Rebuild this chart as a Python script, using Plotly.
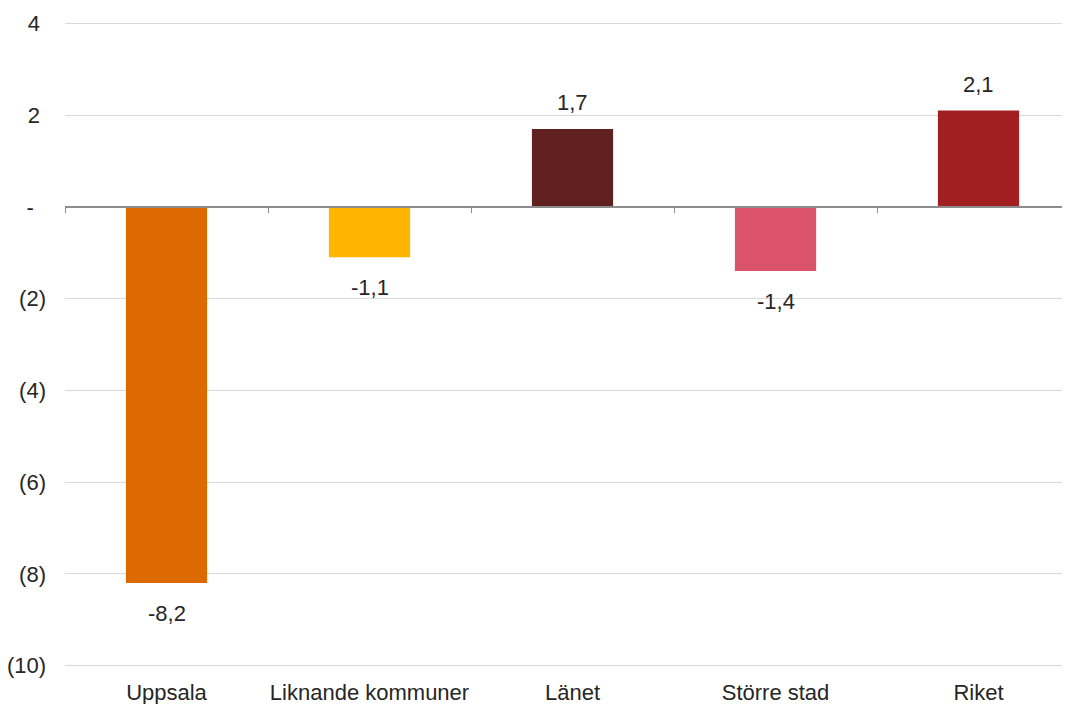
import plotly.graph_objects as go

categories = ["Uppsala", "Liknande kommuner", "Länet", "Större stad", "Riket"]
values = [-8.2, -1.1, 1.7, -1.4, 2.1]
colors = ["#DC6A00", "#FFB500", "#60201F", "#DB536A", "#A21F21"]
ytick_vals = [4, 2, 0, -2, -4, -6, -8, -10]
ytick_text = ["4\u00a0", "2\u00a0", "-\u00a0\u00a0", "(2)", "(4)", "(6)", "(8)", "(10)"]

FONT = "Liberation Sans, Arial, sans-serif"
FS = 22
xrange_ = [-0.5, 4.426]
yrange_ = [-10.03, 4.03]

fig = go.Figure()
fig.add_trace(go.Bar(
    x=categories, y=values, marker=dict(color=colors, line=dict(width=0)),
    width=0.4, hoverinfo="skip", showlegend=False,
))
# invisible helper trace for the zero-line axis with boundary ticks
fig.add_trace(go.Scatter(
    x=categories, y=values, xaxis="x2", mode="markers",
    marker=dict(opacity=0), hoverinfo="skip", showlegend=False,
))

for c, v in zip(categories, values):
    fig.add_annotation(
        x=c, y=v, text=f"{v:.1f}".replace(".", ","), showarrow=False,
        yshift=26 if v >= 0 else -30, yanchor="middle",
        font=dict(family=FONT, size=FS, color="#262626"),
    )

fig.update_layout(
    width=1070, height=704,
    margin=dict(l=57, r=13, t=14, b=45, autoexpand=False),
    paper_bgcolor="white", plot_bgcolor="white",
    font=dict(family=FONT, size=FS, color="#262626"),
    xaxis=dict(
        type="category", categoryorder="array", categoryarray=categories,
        range=xrange_, showgrid=False, showline=False, ticks="",
        zeroline=False, tickfont=dict(size=FS, color="#262626"),
        ticklabelstandoff=10, automargin=False,
    ),
    xaxis2=dict(
        type="category", categoryorder="array", categoryarray=categories,
        range=xrange_, overlaying="x", anchor="free",
        position=(0 - yrange_[0]) / (yrange_[1] - yrange_[0]),
        showline=True, linecolor="#8c8c8c", linewidth=1.5,
        ticks="outside", tickson="boundaries", ticklen=5, tickcolor="#8c8c8c",
        tickwidth=1, showticklabels=False, showgrid=False, zeroline=False,
        automargin=False,
    ),
    yaxis=dict(
        range=yrange_, tickvals=ytick_vals, ticktext=ytick_text,
        showgrid=True, gridcolor="#d9d9d9", gridwidth=1.2,
        zeroline=False, showline=False, ticks="", ticklabelstandoff=18,
        tickfont=dict(size=FS, color="#262626"), automargin=False,
    ),
    bargap=0.6,
)

fig.write_html("out.html")
